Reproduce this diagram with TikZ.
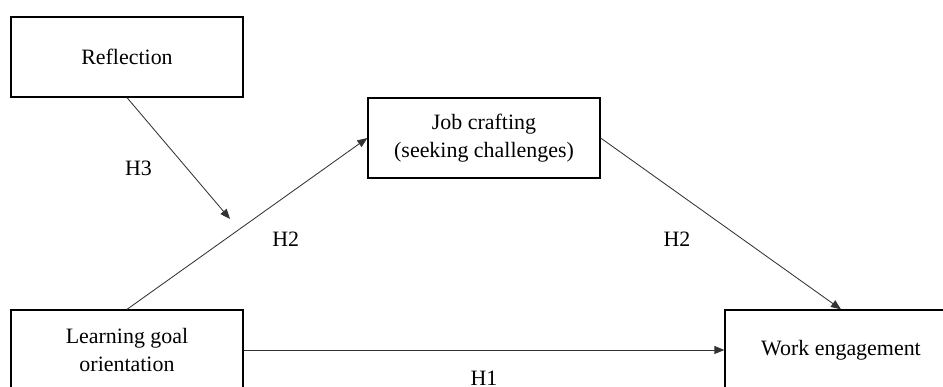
\documentclass[tikz,border=0pt]{standalone}
\usepackage{fontspec}
\setmainfont{Liberation Serif}
\usepackage{tikz}
\usetikzlibrary{arrows.meta,positioning}

\tikzset{
  block/.style={draw=black, line width=0.9pt, minimum width=5.8cm, minimum height=2cm, align=center},
  hyp/.style={inner sep=0pt}
}

\begin{document}
\begin{tikzpicture}[->, >={Triangle[length=0.25cm,width=0.2cm]}, draw=black!80, line width=0.6pt, on grid, auto,
  font=\fontsize{15.6}{19.5}\selectfont]
   \useasboundingbox (-3.175,-0.925) rectangle (20.4,8.75);
   \node[block] (L) {Learning goal\\orientation};
   \node[block] (R) [above=7.325cm of L] {Reflection};
   \node[block] (J) [above right=5.3cm and 8.925cm of L] {Job crafting\\(seeking challenges)};
   \node[block] (W) [right=17.85cm of L] {Work engagement};
   \path (L) ++(2.575,3.275) coordinate (M);
    \path
    (R.south) edge node[hyp, pos=0.58, left=0.86cm] {H3} (M)
    (L.north) edge node[hyp, pos=0.41, right=1.16cm] {H2} (J.west)
    (J.east) edge node[hyp, pos=0.59, left=1.29cm] {H2} (W.north)
    (L.east) edge node[hyp, midway, below=0.52cm] {H1} (W.west);
\end{tikzpicture}
\end{document}
